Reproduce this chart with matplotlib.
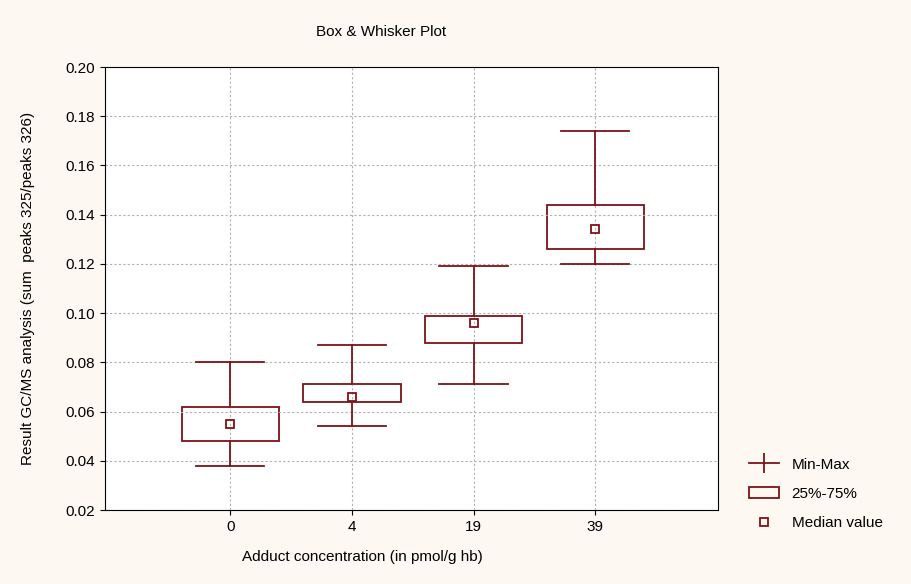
import matplotlib.pyplot as plt
from matplotlib.lines import Line2D
from matplotlib.patches import Rectangle

categories = ["0", "4", "19", "39"]
mins = [0.038, 0.054, 0.071, 0.120]
q1s = [0.048, 0.064, 0.088, 0.126]
medians = [0.055, 0.066, 0.096, 0.134]
q3s = [0.062, 0.071, 0.099, 0.144]
maxs = [0.080, 0.087, 0.119, 0.174]

col = "#7b1318"
plt.rcParams['font.family'] = ['Liberation Sans', 'DejaVu Sans']

fig = plt.figure(figsize=(9.12, 5.84), dpi=100, facecolor="#fdf8f1")
ax = fig.add_axes([105 / 912, 1 - 510 / 584, 613 / 912, 443 / 584])
ax.set_facecolor("white")

bw, cw = 0.8, 0.56
for i in range(len(categories)):
    ax.plot([i, i], [mins[i], q1s[i]], color=col, lw=1.3)
    ax.plot([i, i], [q3s[i], maxs[i]], color=col, lw=1.3)
    ax.plot([i - cw / 2, i + cw / 2], [mins[i]] * 2, color=col, lw=1.3)
    ax.plot([i - cw / 2, i + cw / 2], [maxs[i]] * 2, color=col, lw=1.3)
    ax.add_patch(Rectangle((i - bw / 2, q1s[i]), bw, q3s[i] - q1s[i],
                           fill=False, edgecolor=col, lw=1.3))
    ax.plot(i, medians[i], marker="s", ms=6, mfc="none", mec=col, mew=1.3)

ax.set_xlim(-1.03, 4.01)
ax.set_ylim(0.02, 0.20)
ax.set_xticks(range(len(categories)))
ax.set_xticklabels(categories)
ax.set_yticks([0.02 + 0.02 * k for k in range(10)])
ax.yaxis.set_major_formatter(plt.FuncFormatter(lambda v, p: f"{v:.2f}"))
ax.grid(True, ls=(0, (2, 2)), color="#b0b0b0", lw=0.8)
ax.tick_params(labelsize=11, direction="out")
ax.set_title("Box & Whisker Plot", fontsize=11, pad=22, x=0.45)
ax.set_xlabel("Adduct concentration (in pmol/g hb)", fontsize=11, labelpad=12, x=0.42)
ax.set_ylabel("Result GC/MS analysis (sum  peaks 325/peaks 326)", fontsize=11, labelpad=22)

handles = [
    Line2D([], [], color=col, marker="|", ms=14, mew=1.3, lw=1.3),
    Rectangle((0, 0), 1, 1, fill=False, edgecolor=col, lw=1.3),
    Line2D([], [], ls="none", marker="s", ms=6, mfc="none", mec=col, mew=1.3),
]
fig.legend(handles, ["Min-Max", "25%-75%", "Median value"], loc="lower left",
           bbox_to_anchor=(735 / 912, 40 / 584), frameon=False, fontsize=11,
           labelspacing=1.0)

fig.savefig("out.png", dpi=100, facecolor=fig.get_facecolor())
